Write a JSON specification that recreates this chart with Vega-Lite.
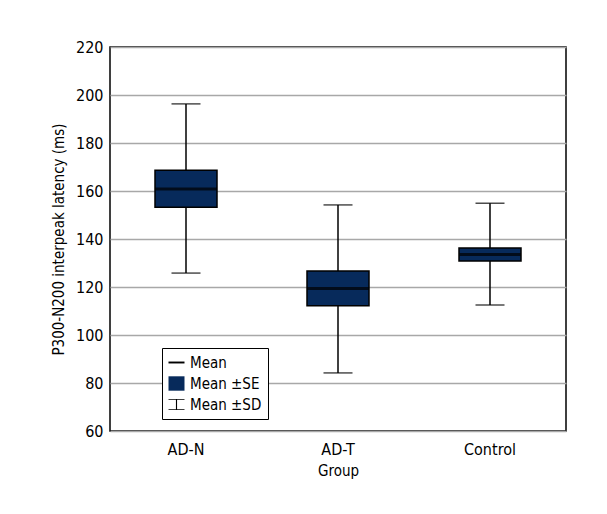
{
  "$schema": "https://vega.github.io/schema/vega-lite/v6.json",
  "autosize": {"type": "none"},
  "width": 456,
  "height": 384,
  "padding": {"left": 110, "top": 47, "right": 41, "bottom": 83},
  "background": "white",
  "config": {
    "font": "DejaVu Sans Condensed",
    "view": {"stroke": "black", "strokeWidth": 1.5},
    "axis": {"labelFont": "DejaVu Sans Condensed", "titleFont": "DejaVu Sans Condensed", "labelFontSize": 16, "titleFontSize": 15, "labelColor": "black", "titleColor": "black", "titleFontWeight": "normal"},
    "legend": {"labelFont": "DejaVu Sans Condensed", "labelFontSize": 15, "labelColor": "black"}
  },
  "data": {
    "values": [
      {"Group": "AD-N", "sd_lo": 125.8, "se_lo": 153.2, "mean": 160.8, "se_hi": 168.6, "sd_hi": 196.3},
      {"Group": "AD-T", "sd_lo": 84.2, "se_lo": 112.2, "mean": 119.4, "se_hi": 126.7, "sd_hi": 154.2},
      {"Group": "Control", "sd_lo": 112.5, "se_lo": 130.8, "mean": 133.5, "se_hi": 136.3, "sd_hi": 154.9}
    ]
  },
  "encoding": {
    "x": {
      "field": "Group", "type": "nominal", "sort": null,
      "scale": {"paddingInner": 0, "paddingOuter": 0},
      "axis": {"title": "Group", "labelAngle": 0, "domain": false, "ticks": false, "grid": false, "labelPadding": 10, "titlePadding": 6}
    }
  },
  "layer": [
    {
      "mark": {"type": "rule", "color": "black", "strokeWidth": 1.5},
      "encoding": {
        "y": {
          "field": "sd_lo", "type": "quantitative",
          "scale": {"domain": [60, 220], "nice": false, "zero": false},
          "axis": {"title": "P300-N200 interpeak latency (ms)", "values": [60, 80, 100, 120, 140, 160, 180, 200, 220], "tickCount": 9, "labelOverlap": false, "ticks": false, "domain": false, "labelPadding": 7, "titlePadding": 9, "grid": true, "gridColor": "#a8a8a8", "gridWidth": 1.5}
        },
        "y2": {"field": "sd_hi"}
      }
    },
    {
      "mark": {"type": "tick", "color": "black", "size": 29, "thickness": 1.5, "orient": "horizontal"},
      "encoding": {"y": {"field": "sd_lo", "type": "quantitative"}}
    },
    {
      "mark": {"type": "tick", "color": "black", "size": 29, "thickness": 1.5, "orient": "horizontal"},
      "encoding": {"y": {"field": "sd_hi", "type": "quantitative"}}
    },
    {
      "mark": {"type": "bar", "fill": "#072a5b", "stroke": "black", "strokeWidth": 1.5, "size": 62},
      "encoding": {
        "y": {"field": "se_lo", "type": "quantitative"},
        "y2": {"field": "se_hi"}
      }
    },
    {
      "mark": {"type": "tick", "color": "black", "size": 62, "thickness": 3, "orient": "horizontal"},
      "encoding": {"y": {"field": "mean", "type": "quantitative"}}
    },
    {
      "data": {"values": [{"item": "Mean"}, {"item": "Mean ±SE"}, {"item": "Mean ±SD"}]},
      "mark": {"type": "point", "opacity": 0, "stroke": "black", "strokeWidth": 1, "filled": true},
      "encoding": {
        "x": {"value": 0},
        "y": {"value": 0},
        "shape": {
          "field": "item", "type": "nominal",
          "scale": {"domain": ["Mean", "Mean ±SE", "Mean ±SD"], "range": ["M-1,-0.12H1V0.12H-1Z", "M-1,-0.9H1V0.9H-1Z", "M-1,-0.7H1V-0.6H0.07V0.6H1V0.7H-1V0.6H-0.07V-0.6H-1Z"]},
          "legend": {
            "title": null, "orient": "none", "legendX": 52, "legendY": 301,
            "strokeColor": "black", "fillColor": "white", "padding": 6,
            "symbolSize": 256, "symbolOpacity": 1, "symbolStrokeColor": "black", "symbolStrokeWidth": 0.8,
            "labelOffset": 5, "rowPadding": 3
          }
        },
        "fill": {
          "field": "item", "type": "nominal",
          "scale": {"domain": ["Mean", "Mean ±SE", "Mean ±SD"], "range": ["black", "#072a5b", "black"]},
          "legend": {
            "title": null, "orient": "none", "legendX": 52, "legendY": 301,
            "strokeColor": "black", "fillColor": "white", "padding": 6,
            "symbolSize": 256, "symbolOpacity": 1, "symbolStrokeColor": "black", "symbolStrokeWidth": 0.8,
            "labelOffset": 5, "rowPadding": 3
          }
        }
      }
    }
  ]
}
